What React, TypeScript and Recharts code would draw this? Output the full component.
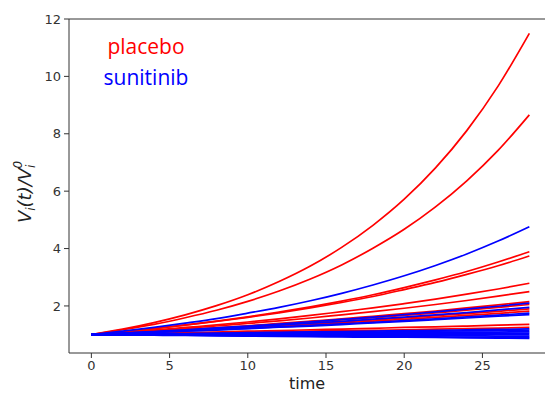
import React from 'react'
import {
  LineChart,
  Line,
  XAxis,
  YAxis,
  Label,
  ReferenceLine
} from 'recharts'

// sample times (days)
const times = [0, 2, 4, 6, 8, 10, 12, 14, 16, 18, 20, 22, 24, 26, 28]

// placebo curves, V_i(t)/V_i^0 read at the times above
const placebo1 = [1, 1.19, 1.42, 1.69, 2.01, 2.39, 2.85, 3.39, 4.04, 4.81, 5.72, 6.81, 8.11, 9.66, 11.5]
const placebo2 = [1, 1.17, 1.36, 1.59, 1.85, 2.16, 2.52, 2.94, 3.43, 4.01, 4.67, 5.45, 6.36, 7.42, 8.66]
const placebo3 = [1, 1.1, 1.21, 1.34, 1.47, 1.62, 1.79, 1.97, 2.17, 2.39, 2.64, 2.91, 3.2, 3.53, 3.89]
const placebo4 = [1, 1.1, 1.21, 1.33, 1.46, 1.6, 1.76, 1.93, 2.12, 2.33, 2.57, 2.82, 3.1, 3.4, 3.74]
const placebo5 = [1, 1.08, 1.16, 1.25, 1.34, 1.44, 1.55, 1.67, 1.8, 1.93, 2.08, 2.24, 2.41, 2.59, 2.79]
const placebo6 = [1, 1.07, 1.14, 1.22, 1.3, 1.39, 1.48, 1.58, 1.69, 1.8, 1.92, 2.05, 2.19, 2.34, 2.5]
const placebo7 = [1, 1.06, 1.12, 1.18, 1.24, 1.31, 1.39, 1.47, 1.55, 1.64, 1.73, 1.82, 1.93, 2.04, 2.15]
const placebo8 = [1, 1.05, 1.11, 1.17, 1.23, 1.29, 1.36, 1.43, 1.51, 1.59, 1.67, 1.76, 1.85, 1.95, 2.05]
const placebo9 = [1, 1.05, 1.1, 1.15, 1.2, 1.26, 1.32, 1.38, 1.44, 1.51, 1.58, 1.66, 1.73, 1.81, 1.9]
const placebo10 = [1, 1.04, 1.09, 1.14, 1.19, 1.24, 1.29, 1.35, 1.41, 1.47, 1.53, 1.6, 1.67, 1.74, 1.82]
const placebo11 = [1, 1.02, 1.04, 1.07, 1.09, 1.12, 1.14, 1.17, 1.19, 1.22, 1.25, 1.27, 1.3, 1.33, 1.36]
const placebo12 = [1, 1.02, 1.03, 1.05, 1.07, 1.08, 1.1, 1.12, 1.14, 1.15, 1.17, 1.19, 1.21, 1.23, 1.25]

// sunitinib curves
const sunitinib1 = [1, 1.12, 1.25, 1.4, 1.56, 1.75, 1.95, 2.18, 2.44, 2.73, 3.05, 3.41, 3.81, 4.26, 4.76]
const sunitinib2 = [1, 1.05, 1.11, 1.17, 1.24, 1.3, 1.37, 1.45, 1.53, 1.61, 1.7, 1.79, 1.89, 1.99, 2.1]
const sunitinib3 = [1, 1.05, 1.1, 1.15, 1.21, 1.27, 1.33, 1.4, 1.46, 1.54, 1.61, 1.69, 1.77, 1.86, 1.95]
const sunitinib4 = [1, 1.04, 1.08, 1.13, 1.17, 1.22, 1.27, 1.32, 1.38, 1.43, 1.49, 1.55, 1.62, 1.68, 1.75]
const sunitinib5 = [1, 1.04, 1.08, 1.12, 1.16, 1.21, 1.26, 1.3, 1.35, 1.41, 1.46, 1.52, 1.58, 1.64, 1.7]
const sunitinib6 = [1, 1.01, 1.03, 1.04, 1.05, 1.07, 1.08, 1.1, 1.11, 1.12, 1.14, 1.15, 1.17, 1.18, 1.2]
const sunitinib7 = [1, 1.01, 1.02, 1.03, 1.04, 1.05, 1.06, 1.07, 1.08, 1.09, 1.11, 1.12, 1.13, 1.14, 1.15]
const sunitinib8 = [1, 1.01, 1.01, 1.02, 1.03, 1.03, 1.04, 1.05, 1.06, 1.06, 1.07, 1.08, 1.09, 1.09, 1.1]
const sunitinib9 = [1, 1, 1.01, 1.01, 1.01, 1.02, 1.02, 1.02, 1.03, 1.03, 1.04, 1.04, 1.04, 1.05, 1.05]
const sunitinib10 = [1, 1, 1, 1, 1, 1, 1, 1, 1, 1, 1, 1, 1, 1, 1]
const sunitinib11 = [1, 1, 0.99, 0.99, 0.99, 0.98, 0.98, 0.97, 0.97, 0.97, 0.96, 0.96, 0.96, 0.95, 0.95]
const sunitinib12 = [1, 0.99, 0.99, 0.98, 0.97, 0.96, 0.96, 0.95, 0.94, 0.93, 0.93, 0.92, 0.91, 0.91, 0.9]
const sunitinib13 = [1, 0.99, 0.98, 0.97, 0.96, 0.95, 0.94, 0.93, 0.92, 0.91, 0.91, 0.9, 0.89, 0.88, 0.87]

const placebo = [
  placebo1, placebo2, placebo3, placebo4, placebo5, placebo6,
  placebo7, placebo8, placebo9, placebo10, placebo11, placebo12
]
const sunitinib = [
  sunitinib1, sunitinib2, sunitinib3, sunitinib4, sunitinib5, sunitinib6, sunitinib7,
  sunitinib8, sunitinib9, sunitinib10, sunitinib11, sunitinib12, sunitinib13
]

const xTicks = [0, 5, 10, 15, 20, 25]
const yTicks = [2, 4, 6, 8, 10, 12]

const data = times.map((t, i) => {
  const row: Record<string, number> = { t }
  placebo.forEach((s, j) => { row['p' + j] = s[i] })
  sunitinib.forEach((s, j) => { row['s' + j] = s[i] })
  return row
})

const axisColor = '#333'
const tickStyle = { fontFamily: 'DejaVu Sans', fontSize: 13, fill: '#333' }

const YLabel = (props: any) => {
  const { viewBox } = props
  const x = viewBox.x + 31
  const y = viewBox.y + viewBox.height / 2 + 6
  return (
    <text
      x={x}
      y={y}
      transform={`rotate(-90, ${x}, ${y})`}
      textAnchor="middle"
      fontFamily="DejaVu Sans"
      fontStyle="italic"
      fontSize={18}
      fill="#222"
    >
      <tspan>V</tspan>
      <tspan fontSize={12} dy={4}>i</tspan>
      <tspan dy={-4}>(t)/V</tspan>
      <tspan fontSize={12} dy={4}>i</tspan>
      <tspan fontSize={12} dx={-4} dy={-13}>0</tspan>
    </text>
  )
}

const App: React.FC = () => {
  return (
    <div style={{ position: 'absolute', left: 0, top: 0, background: '#fff' }}>
      <LineChart
        width={545}
        height={393}
        data={data}
        margin={{ top: 19, right: 0, bottom: 0, left: 0 }}
      >
        <XAxis
          dataKey="t"
          type="number"
          domain={[-1.43, 29]}
          allowDataOverflow
          ticks={xTicks}
          tickSize={5}
          tickMargin={3}
          height={40}
          stroke={axisColor}
          tick={tickStyle}
        >
          <Label
            value="time"
            position="insideBottom"
            offset={4}
            style={{ fontFamily: 'DejaVu Sans', fontSize: 16, fill: '#222' }}
          />
        </XAxis>
        <YAxis
          type="number"
          domain={[0.36, 12]}
          allowDataOverflow
          ticks={yTicks}
          tickSize={5}
          tickMargin={3}
          width={69}
          stroke={axisColor}
          tick={tickStyle}
        >
          <Label content={<YLabel />} />
        </YAxis>
        <ReferenceLine y={12} stroke={axisColor} />
        {placebo.map((_, j) => (
          <Line
            key={'p' + j}
            dataKey={'p' + j}
            type="monotone"
            stroke="#ff0000"
            strokeWidth={1.7}
            dot={false}
            isAnimationActive={false}
          />
        ))}
        {sunitinib.map((_, j) => (
          <Line
            key={'s' + j}
            dataKey={'s' + j}
            type="monotone"
            stroke="#0000ff"
            strokeWidth={1.7}
            dot={false}
            isAnimationActive={false}
          />
        ))}
        <text x={146} y={54} textAnchor="middle" fontFamily="Open Sans" fontSize={21} fill="#ff0000">
          placebo
        </text>
        <text x={146} y={85} textAnchor="middle" fontFamily="Open Sans" fontSize={21} fill="#0000ff">
          sunitinib
        </text>
      </LineChart>
    </div>
  )
}

export default App
